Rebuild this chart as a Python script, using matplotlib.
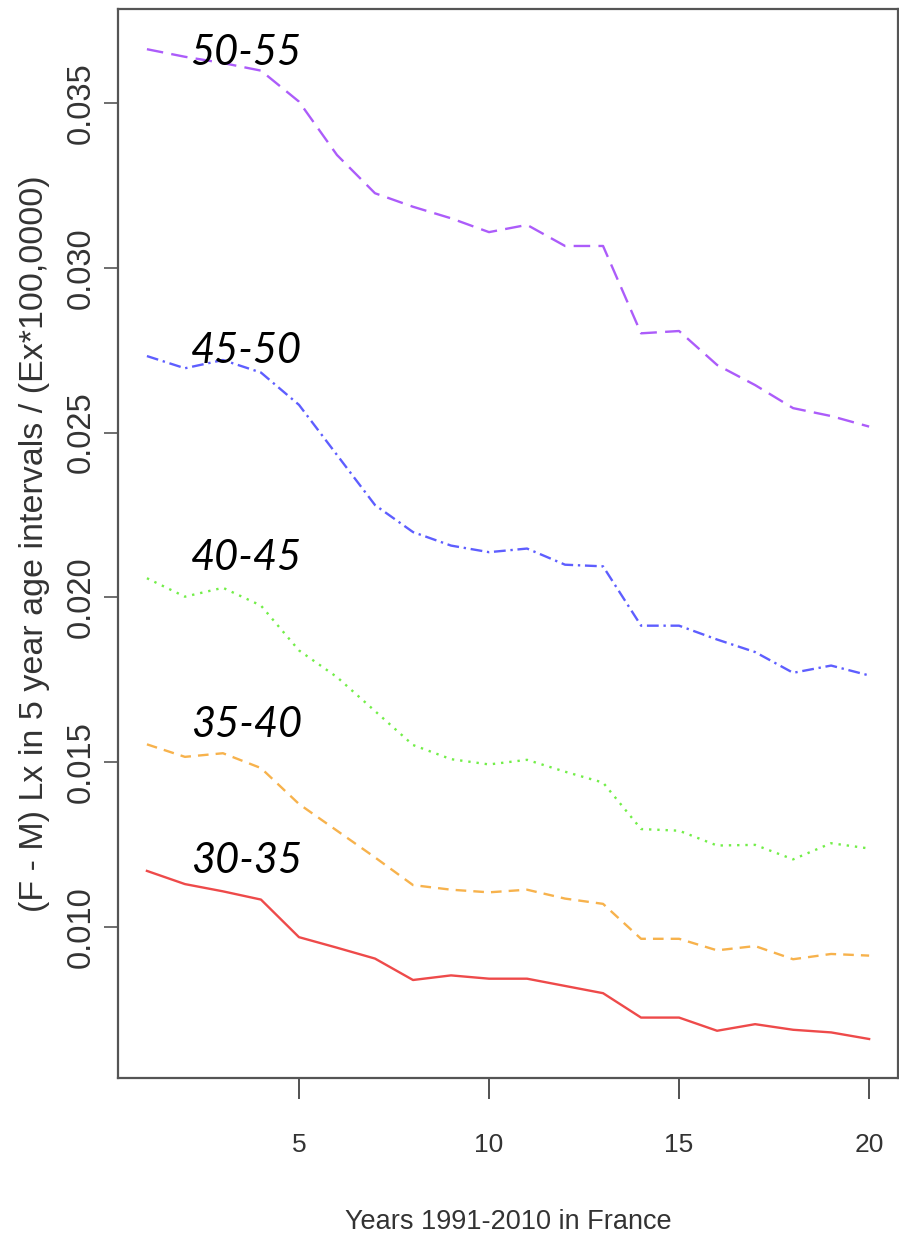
import matplotlib
matplotlib.use('Agg')
import matplotlib.pyplot as plt

# years 1991-2010 indexed 1..20
years = list(range(1, 21))

# (F - M) Lx / (Ex*100,0000) per 5 year age group
age_50_55 = [0.03663, 0.03640, 0.03621, 0.03598, 0.03504, 0.03342, 0.03226, 0.03185, 0.03150, 0.03108,
             0.03130, 0.03066, 0.03066, 0.02801, 0.02808, 0.02705, 0.02644, 0.02574, 0.02550, 0.02518]
age_45_50 = [0.02732, 0.02695, 0.02720, 0.02682, 0.02584, 0.02432, 0.02280, 0.02198, 0.02157, 0.02137,
             0.02148, 0.02099, 0.02094, 0.01914, 0.01914, 0.01872, 0.01834, 0.01771, 0.01793, 0.01763]
age_40_45 = [0.02058, 0.02002, 0.02029, 0.01975, 0.01839, 0.01758, 0.01655, 0.01552, 0.01509, 0.01493,
             0.01507, 0.01471, 0.01438, 0.01297, 0.01292, 0.01247, 0.01249, 0.01205, 0.01254, 0.01238]
age_35_40 = [0.01554, 0.01516, 0.01527, 0.01482, 0.01373, 0.01292, 0.01211, 0.01127, 0.01113, 0.01105,
             0.01113, 0.01086, 0.01070, 0.00964, 0.00964, 0.00929, 0.00942, 0.00902, 0.00918, 0.00913]
age_30_35 = [0.01170, 0.01130, 0.01108, 0.01083, 0.00969, 0.00937, 0.00904, 0.00839, 0.00853, 0.00843,
             0.00843, 0.00821, 0.00799, 0.00725, 0.00725, 0.00685, 0.00705, 0.00688, 0.00680, 0.00660]

group_names = ['50-55', '45-50', '40-45', '35-40', '30-35']
x_ticks = [5, 10, 15, 20]
y_ticks = [0.010, 0.015, 0.020, 0.025, 0.030, 0.035]

# styles per group
series = [age_50_55, age_45_50, age_40_45, age_35_40, age_30_35]
colors = ['#AC5CFA', '#5E5EFF', '#72EE48', '#F7B24C', '#EE4A4A']
dashes = [(7, 3.5), (5, 2, 1, 2), (1, 2.5), (4.5, 3), ()]

# where the group names sit (data coords)
name_x = 2.15
name_y = [0.03652, 0.02748, 0.02120, 0.01612, 0.01200]

fig = plt.figure(figsize=(8.99, 12.39), dpi=100)
ax = fig.add_axes([0.1313, 0.1300, 0.8676, 0.8628])

for vals, c, d in zip(series, colors, dashes):
    line, = ax.plot(years, vals, color=c, lw=1.7)
    if d:
        line.set_dashes(d)

for name, ny in zip(group_names, name_y):
    ax.text(name_x, ny, name, fontsize=30, style='italic', family=['Lato', 'DejaVu Sans'],
            va='center', ha='left', color='black')

ax.set_xlim(0.24, 20.76)
ax.set_ylim(0.005419, 0.037852)

ax.set_xticks(x_ticks)
ax.set_xticklabels([str(t) for t in x_ticks], fontsize=19, family='Liberation Sans')
ax.set_yticks(y_ticks)
ax.set_yticklabels(['%.3f' % t for t in y_ticks], fontsize=23.5, rotation=90, va='center',
                   family='Liberation Sans', color='#333333')

ax.tick_params(axis='x', length=15, width=1.2, pad=25, color='#333333', labelcolor='#333333')
ax.tick_params(axis='y', length=10, width=1.2, pad=5, color='#555555')

for s in ax.spines.values():
    s.set_color('#555555')
    s.set_linewidth(1.6)

ax.set_xlabel('Years 1991-2010 in France', fontsize=19.5, color='#333333',
              family='Liberation Sans', labelpad=37)
ax.set_ylabel('(F - M) Lx in 5 year age intervals / (Ex*100,0000)', fontsize=24.5, color='#333333',
              family='Liberation Sans', labelpad=12)

fig.savefig('out.png', dpi=100)
